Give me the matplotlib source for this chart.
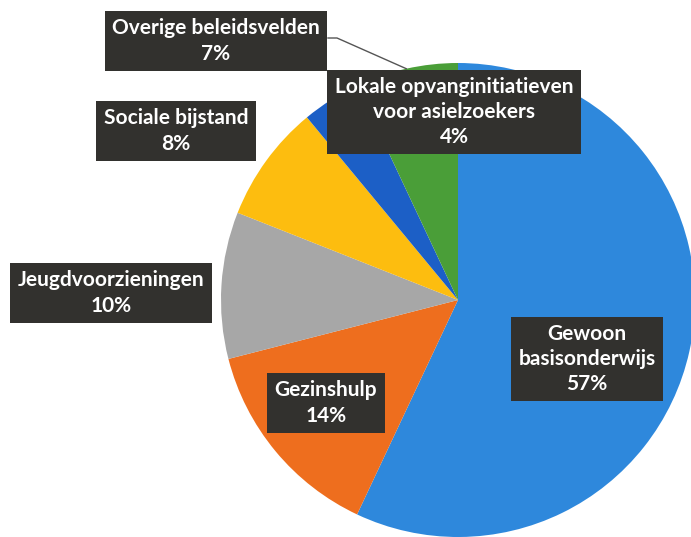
import matplotlib
matplotlib.use("Agg")
import matplotlib.pyplot as plt
import numpy as np

# ---- data ----
categories = [
    "Gewoon\nbasisonderwijs",
    "Gezinshulp",
    "Jeugdvoorzieningen",
    "Sociale bijstand",
    "Lokale opvanginitiatieven\nvoor asielzoekers",
    "Overige beleidsvelden",
]
values = [57, 14, 10, 8, 4, 7]

# ---- style / layout ----
colors = ["#2E88DC", "#EE6E1E", "#A7A7A7", "#FDBD0F", "#1C5FC6", "#4A9E38"]
W, H = 691, 537
center = (458, H - 300)
radius = 237
# label centres (image pixel coords, y measured from top)
label_pos = [(587, 359), (326, 403), (111, 293), (176, 131), (454, 112), (216, 41)]
box_color = "#32312E"

plt.rcParams["font.family"] = ["Lato", "DejaVu Sans"]

fig = plt.figure(figsize=(W / 100, H / 100), dpi=100)
ax = fig.add_axes([0, 0, 1, 1])
ax.set_xlim(0, W)
ax.set_ylim(0, H)
ax.set_aspect("equal")
ax.axis("off")

wedges, _ = ax.pie(values, colors=colors, startangle=90, counterclock=False,
                   center=center, radius=radius,
                   wedgeprops=dict(linewidth=0))
ax.set_xlim(0, W)
ax.set_ylim(0, H)

total = sum(values)
for cat, v, (lx, ly) in zip(categories, values, label_pos):
    ax.text(lx, H - ly, f"{cat}\n{round(100 * v / total)}%",
            ha="center", va="center", color="white", fontsize=15,
            fontweight="bold", linespacing=1.32, zorder=5,
            bbox=dict(boxstyle="square,pad=0.35", fc=box_color, ec="none"))

# leader line for "Overige beleidsvelden" (last wedge)
w = wedges[-1]
mid = np.deg2rad((w.theta1 + w.theta2) / 2)
ex = center[0] + radius * np.cos(mid)
ey = center[1] + radius * np.sin(mid)
ax.plot([328, 337, ex], [H - 38, H - 38, ey], color="#555555", lw=1, zorder=4)

fig.savefig("out.png", dpi=100, facecolor="white")
